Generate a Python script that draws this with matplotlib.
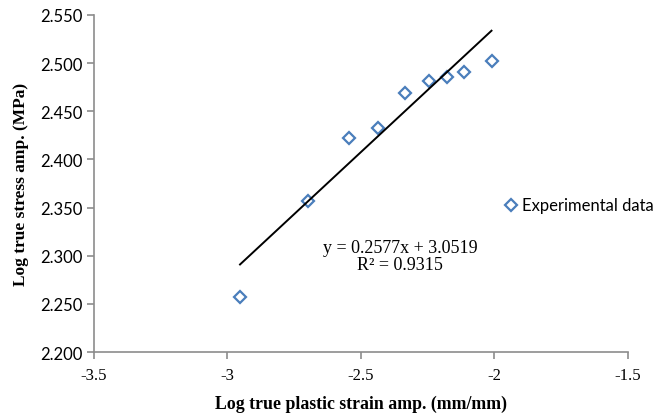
import matplotlib.pyplot as plt
import numpy as np

# data
log_strain = [-2.953, -2.700, -2.544, -2.436, -2.336, -2.246, -2.178, -2.113, -2.011]
log_stress = [2.257, 2.357, 2.422, 2.433, 2.469, 2.481, 2.486, 2.491, 2.502]
slope = 0.2577
intercept = 3.0519
r2 = 0.9315

x_ticks = [-3.5, -3, -2.5, -2, -1.5]
x_tick_labels = ['-3.5', '-3', '-2.5', '-2', '-1.5']
y_ticks = [2.200, 2.250, 2.300, 2.350, 2.400, 2.450, 2.500, 2.550]

fig = plt.figure(figsize=(6.68, 4.14), dpi=100)
ax = fig.add_axes([0.1407, 0.1473, 0.7993, 0.8141])

# experimental points
ax.plot(log_strain, log_stress, linestyle='none', marker='D', markersize=6.5,
        markerfacecolor='white', markeredgecolor='#4a7ebb', markeredgewidth=1.6,
        label='Experimental data')

# linear trendline
xs = np.array([min(log_strain), max(log_strain)])
ax.plot(xs, slope * xs + intercept, color='black', linewidth=1.4)

ax.text(0.573, 0.285, f'y = {slope}x + {intercept}\nR² = {r2}', transform=ax.transAxes,
        ha='center', va='center', fontsize=13, family='Liberation Serif',
        linespacing=1.05)

ax.set_xlim(-3.5, -1.5)
ax.set_ylim(2.2, 2.55)
ax.set_xticks(x_ticks)
ax.set_xticklabels(x_tick_labels, family='Liberation Serif', fontsize=12)
ax.set_yticks(y_ticks)
ax.set_yticklabels([f'{v:.3f}' for v in y_ticks], family='Lato', fontsize=12)

for s in ['top', 'right']:
    ax.spines[s].set_visible(False)
for s in ['left', 'bottom']:
    ax.spines[s].set_color('#8c8c8c')
    ax.spines[s].set_linewidth(1.2)
ax.tick_params(direction='out', color='#8c8c8c', length=5, width=1.2)
ax.tick_params(axis='x', pad=6)

ax.set_xlabel('Log true plastic strain amp. (mm/mm)', family='Liberation Serif',
              fontweight='bold', fontsize=12.8, labelpad=8)
ax.set_ylabel('Log true stress amp. (MPa)', family='Liberation Serif',
              fontweight='bold', fontsize=12.5, labelpad=8)

leg = ax.legend(loc='center left', bbox_to_anchor=(0.74, 0.435), frameon=False,
                prop={'family': 'Lato', 'size': 12}, handlelength=0.8,
                handletextpad=0.3)

fig.savefig('out.png', dpi=100)
